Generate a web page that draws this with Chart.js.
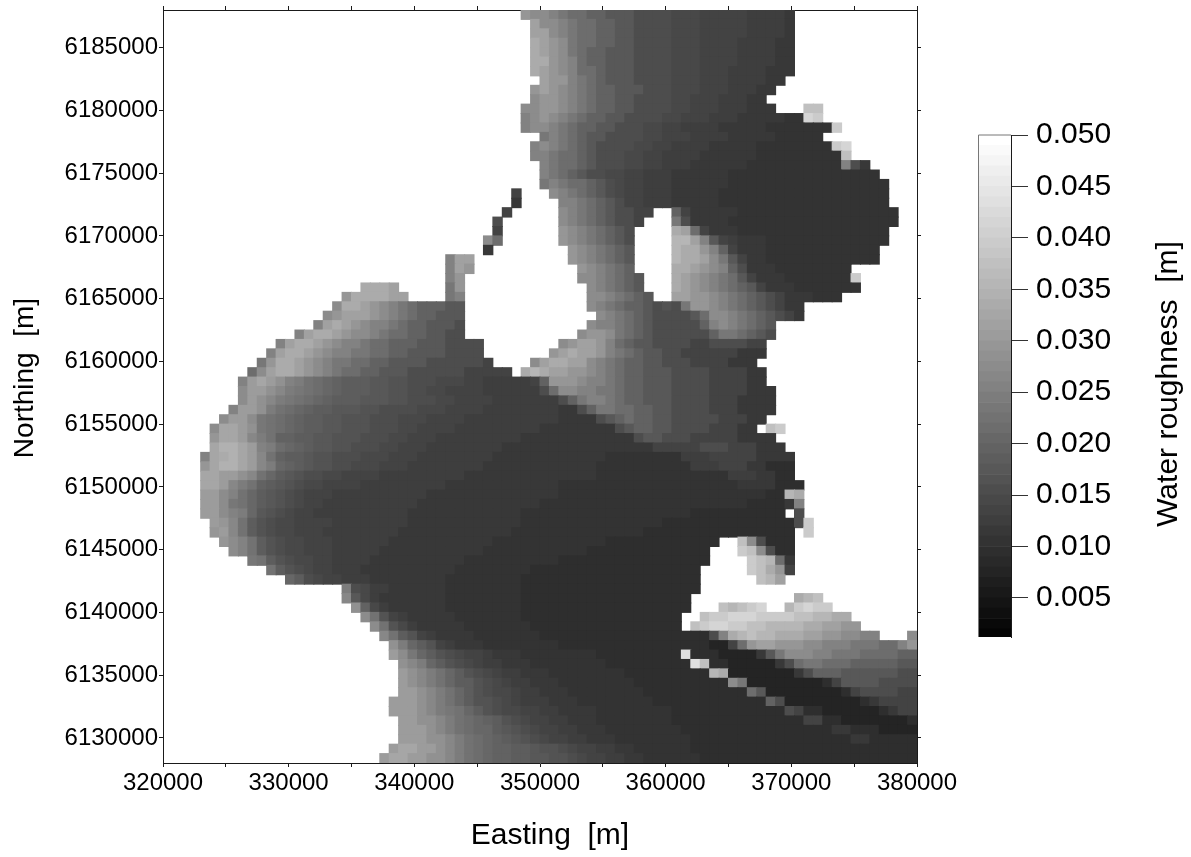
<!DOCTYPE html>
<html>
<head>
<meta charset="utf-8">
<title>Water roughness</title>
<script src="https://cdn.jsdelivr.net/npm/chart.js@4/dist/chart.umd.min.js"></script>
<style>
  body { margin: 0; background: #fff; }
  canvas { position: absolute; top: 0; }
  #mapChart { left: 0; }
  #barChart { left: 960px; }
</style>
</head>
<body>
<canvas id="mapChart" width="1191" height="857"></canvas>
<canvas id="barChart" width="231" height="857"></canvas>
<script>
const eastingTicks = [320000, 325000, 330000, 335000, 340000, 345000, 350000, 355000, 360000, 365000, 370000, 375000, 380000];
const northingTicks = [6130000, 6135000, 6140000, 6145000, 6150000, 6155000, 6160000, 6165000, 6170000, 6175000, 6180000, 6185000];
const roughnessTicks = [0.005, 0.010, 0.015, 0.020, 0.025, 0.030, 0.035, 0.040, 0.045, 0.050];

// one letter per roughness level, a = 0.002, A = 0.003, b = 0.004 ... y = 0.050
const levelLetters = 'aAbBcCdDeEfFgGhHiIjJkKlLmMnNoOpPqQrRsStTuUvVwWxXy';
const levelValues = [0.002, 0.003, 0.004, 0.005, 0.006, 0.007, 0.008, 0.009, 0.010, 0.011, 0.012, 0.013, 0.014,
  0.015, 0.016, 0.017, 0.018, 0.019, 0.020, 0.021, 0.022, 0.023, 0.024, 0.025, 0.026, 0.027, 0.028, 0.029, 0.030,
  0.031, 0.032, 0.033, 0.034, 0.035, 0.036, 0.037, 0.038, 0.039, 0.040, 0.041, 0.042, 0.043, 0.044, 0.045, 0.046,
  0.047, 0.048, 0.049, 0.050];

// north to south, 750 m cells. letter + count repeats, "." is no data
const roughnessRows = [
  '.38 onnmlkkjjiii h4 G3 g5 F4 f',
  '.39 pnnmlkkjjii h4 G3 g5 F4 f',
  '.39 ppnmlkkjjii h4 G3 g5 F4 f',
  '.39 qponlkkjjii h4 G3 g4 F4 f2',
  '.39 qponlkjjiii h4 G3 g4 F4 f2',
  '.39 qqonmkjjiii h4 G3 g4 F4 f2',
  '.39 qponmkkjiii h4 G3 g3 F4 f3',
  '.40 poomlkjiii h4 G3 g3 F4 f2',
  '.39 oponmlkjjiii h3 G3 g3 F3 f2',
  '.39 noonmlkjjii h4 G2 g3 F3 f2',
  '.38 nnoonmlkjjii h4 G2 g3 F3 f3 .3 ss',
  '.38 mnonmlkjjiih h3 G2 g3 F3 f5 E2 ut',
  '.38 mnnmlkjjii h3 G2 g2 F4 f5 E7 t',
  '.40 lmlkjiih h3 G2 g3 F4 f5 E5',
  '.39 mnmlkjih h3 G2 g2 F4 f5 E8 tu',
  '.39 mmlkkjih h2 G2 g2 F4 f6 E9 s',
  '.40 mlkkjih h2 G2 g2 F3 f6 E10 mhf',
  '.40 mlkjih h G2 g2 F3 f6 E16',
  '.40 lmlkkjih G g2 F3 f6 E17',
  '.37 g .3 nmlkjih G g2 F3 f5 E18',
  '.37 f .4 mmlkjih g2 F3 f5 E18',
  '.36 g .5 nmlkjih hgg .2 jg f5 E17',
  '.35 h .6 nmlkjih hg .3 lh f4 E18',
  '.35 g .6 onmlkji h .4 qpkg f3 E16',
  '.34 nk .6 onmlkjih .4 rrpmig F f3 E13',
  '.34 f .8 onmlkji .4 rqqomjgf f2 E12',
  '.30 mpp .10 onmlkji .4 rqqpnligf f E12',
  '.30 mpo .11 onmlkj .4 qqponmjhff f E8',
  '.30 mo .12 nnmlkji .3 qponmlkigf f2 E7 t',
  '.21 qqqp .5 lo .13 nmlkji .3 qponmlkjigf f2 E7',
  '.19 oqqqqpp .4 lm .13 nnmlkji .2 ppoonmlkjihgf f2 E3',
  '.18 nqqponmlkjjjii .13 nmlkjjihH hloonmlkjihgff',
  '.17 noppponmlkjjiii .14 nmlkjihhh hiknnmlkjihgf',
  '.16 mpqponmmlkjjiiih .13 nmmlkjihh hhhjmnmlkji',
  '.14 mpqqponnmlkkjjiihh .12 noonlkjihh hhhhjllkjih',
  '.12 mpqqponmmlkkjjjiiihhh h .8 noppomkjiihhhhgghhhhgg',
  '.11 mpqqponmmllkkjjiiiihhhh .7 opqppomlkjiihh g6 f3',
  '.10 loqqponmllkkjjiiiihhhhhhg .4 npqqppnmlkjjiihhh g4 f3',
  '.9 knpqqponmlkkjjiiihhhhhhggggg .1 qrqppoonmlkjjiii h4 g4 f2',
  '.8 mOPONmLKkJjIIIiiHHhhhGGGgg F5 gjooonmmlkjjiii h4 g4 f2',
  '.8 nOONMLlKkJjIIIiiHHhhGGgggg F6 hknnmmllkjjiii h4 g4 f3',
  '.8 nONMLlKkJjIIIiiiHHhhhGGgggg F7 hjlmmlkjjiii h4 g3 f4',
  '.7 mOONLKkJjIIiiiHHhhhhGGGgggg F8 f2 hjllkkjjii h4 g3 f4',
  '.6 nOOnlKkJjIIiiHHHhhhGGGgggg F10 f4 hijkjjiih h4 g3 f2',
  '.5 nPPONlKkJjIIiiHHHhhhGGgggg F9 f8 hijjiihhhh g3 f2 .1 st',
  '.5 oPPOMLKjjIIiiHHHhhhGGggg F9 f12 hiihhh g5 f4',
  '.5 PQQPOmLkJjIiiHHhhhGGggg F8 f16 g5 h3 g3 f3',
  '.4 mPqQPOMKjIIiHHhhhGGGggg F8 f12 E8 F3 g5 f4',
  '.4 oPQQPOMLJjIiHHhhGGGggg F8 f12 E10 F3 g3 f2 e3',
  '.4 PPOONMKJIiHhhGGgggg F9 f14 E14 F3 f2 e2',
  '.4 PPOMLKjIiHhGGgggg F9 f12 E19 f4 e3',
  '.4 OOnmKJIiHhGggg F10 f14 E22 e2 rq',
  '.4 OOnlKJIiHhGgg F10 f13 E22 e4 fm',
  '.4 OOnmLJiHhGgg F10 f12 E18 e10 .1 h',
  '.5 OoMKIHhGGgggg F8 f12 E15 e14 ht',
  '.5 oOMKIHhGGggg F8 f12 E14 e16 .1 t',
  '.6 onmKIHhGGggg F6 f11 E12 e12 .2 snh e3',
  '.7 nmKIHhGGggg F5 f11 E11 e13 .3 tsnh e2',
  '.9 lKIHhGGgg F4 f10 E10 e16 .4 tsrk f',
  '.11 KIHhGgg F3 f10 E8 e18 .5 tsqo g',
  '.13 JIhGgg F3 f8 E8 e19 .6 srp',
  '.19 LhG F2 f6 E8 e19',
  '.19 MiGF f7 E8 e18 .11 qrs',
  '.20 NjGF f6 E8 e18 .3 srstu .2 rtutt',
  '.21 nKHgF f5 E7 e17 .2 sttuuutt ttssrrqq',
  '.22 nKHGF f5 E7 e16 .1 stuuttssrrrrqqppoo',
  '.23 MKIHgF f4 E7 e18 hmqrsrrqqqppoonnmm .3 n',
  '.24 NLJIHgF f3 E8 e16 d2 gkoppooonnmmmlllkkmo',
  '.24 OnlJIHhGggF f3 E8 e9 v e3 d4 filnnnmmlllkkkkjj',
  '.25 NMLJIHhGgFF f3 E8 e9 vs e2 d5 fhkllkkkjjjjjii',
  '.25 ONMLKJIHhGgFF f3 E8 e9 rq d7 fhjjjiiiiiihh',
  '.25 ONMLKJIIHhGgFF f3 E8 e10 nl d8 egiiiihhhh',
  '.25 OONMLKJIHhGGgF F f3 E8 e11 ki d8 eghhhhgg',
  '.24 OOONMLKJIHHhGgF F2 f3 E8 e12 jh d8 efg g3',
  '.24 OOONMLlKJIHhGGg g F2 f4 E8 e12 hg e2 d6 efgg',
  '.25 OONNMLKkJjIHhGggFF f3 E8 e14 gg e2 d7 e',
  '.25 OOONMLKkJJIiHhGggFF f3 E8 e16 f2 e3 d4',
  '.25 OOONNMLKkJjIiHhGggFF f3 E8 e17 f2 e5',
  '.24 OPPOONMLKkJjjIIiHHhGggFFff E6 e24',
  '.23 OPPOONNMLKkJjjIIiiHHhGggFFff E6 e23'
];

const cellSize = 750;
const westEdge = 320000;
const northEdge = 6188000;
const lowEnd = 0.0012;
const highEnd = 0.05;
const fontFamily = '"Liberation Sans", Arial, sans-serif';
const axisFont = { family: fontFamily, size: 24 };
const bigFont = { family: fontFamily, size: 30 };
const lineColor = '#1a1a1a';

function grey(v) {
  const g = Math.round((v - lowEnd) / (highEnd - lowEnd) * 255);
  return `rgb(${g},${g},${g})`;
}

function decodeCells() {
  const cells = [];
  roughnessRows.forEach((row, r) => {
    let c = 0;
    for (const m of row.matchAll(/([.a-zA-Z])(\d*)/g)) {
      const n = m[2] ? parseInt(m[2]) : 1;
      for (let i = 0; i < n; i++, c++) {
        if (m[1] === '.') continue;
        cells.push({
          x: westEdge + cellSize * (c + 0.5),
          y: northEdge - cellSize * (r + 0.5),
          v: levelValues[levelLetters.indexOf(m[1])]
        });
      }
    }
  });
  return cells;
}

function fixedTicks(values) {
  return scale => { scale.ticks = values.map(v => ({ value: v })); };
}

// labels hang over the plot ends, keep that from moving the plot area
function fitTo(prop, size) {
  return s => {
    s[prop] = size;
    s.paddingTop = s.paddingBottom = s.paddingLeft = s.paddingRight = 0;
  };
}

function drawTitle(ctx, text, x, y, angle, size) {
  ctx.save();
  ctx.translate(x, y);
  ctx.rotate(angle);
  ctx.font = `${size}px ${fontFamily}`;
  ctx.fillStyle = '#000';
  ctx.textAlign = 'center';
  ctx.textBaseline = 'middle';
  ctx.fillText(text, 0, 0);
  ctx.restore();
}

const mapTitles = {
  id: 'mapTitles',
  afterDraw(chart) {
    drawTitle(chart.ctx, 'Easting  [m]', 550, 836, 0, 30);
    drawTitle(chart.ctx, 'Northing  [m]', 25, 378, -Math.PI / 2, 28);
  }
};

new Chart(document.getElementById('mapChart'), {
  type: 'scatter',
  data: {
    datasets: [{
      data: decodeCells(),
      pointStyle: 'rect',
      pointBorderWidth: 0,
      backgroundColor: ctx => ctx.raw ? grey(ctx.raw.v) : '#000',
      pointRadius: ctx => {
        const s = ctx.chart.scales.x;
        return (s.getPixelForValue(westEdge + cellSize) - s.getPixelForValue(westEdge) + 1) / Math.SQRT2;
      }
    }]
  },
  options: {
    responsive: false,
    animation: false,
    plugins: { legend: { display: false }, tooltip: { enabled: false } },
    layout: { padding: 0, autoPadding: false },
    scales: {
      x: {
        type: 'linear', position: 'bottom', min: 320000, max: 380000,
        afterBuildTicks: fixedTicks(eastingTicks),
        afterFit: fitTo('height', 94),
        grid: { drawOnChartArea: false, tickLength: 4, tickColor: lineColor },
        border: { color: lineColor },
        ticks: {
          autoSkip: false, maxRotation: 0, font: axisFont, color: '#000', padding: 2,
          callback: v => v % 10000 === 0 ? String(v) : ''
        }
      },
      y: {
        type: 'linear', position: 'left', min: 6128000, max: 6188000,
        afterBuildTicks: fixedTicks(northingTicks),
        afterFit: fitTo('width', 163),
        grid: { drawOnChartArea: false, tickLength: 4, tickColor: lineColor },
        border: { color: lineColor },
        ticks: { autoSkip: false, font: axisFont, color: '#000', padding: 1, callback: v => String(v) }
      },
      top: {
        type: 'linear', position: 'top', min: 320000, max: 380000,
        afterBuildTicks: fixedTicks(eastingTicks),
        afterFit: fitTo('height', 10),
        grid: { drawOnChartArea: false, tickLength: 4, tickColor: lineColor },
        border: { color: lineColor },
        ticks: { display: false }
      },
      right: {
        type: 'linear', position: 'right', min: 6128000, max: 6188000,
        afterBuildTicks: fixedTicks(northingTicks),
        afterFit: fitTo('width', 274),
        grid: { drawOnChartArea: false, tickLength: 4, tickColor: lineColor },
        border: { color: lineColor },
        ticks: { display: false }
      }
    }
  },
  plugins: [mapTitles]
});

// frame on the bar's open sides and the bottom-to-top axis title
const barDecor = {
  id: 'barDecor',
  afterDraw(chart) {
    const { ctx, chartArea: a } = chart;
    ctx.save();
    ctx.strokeStyle = '#777';
    ctx.lineWidth = 1;
    ctx.beginPath();
    ctx.moveTo(a.left - 0.5, a.bottom);
    ctx.lineTo(a.left - 0.5, a.top);
    ctx.lineTo(a.right, a.top);
    ctx.stroke();
    ctx.restore();
    drawTitle(ctx, 'Water roughness  [m]', 209, 384, -Math.PI / 2, 30);
  }
};

new Chart(document.getElementById('barChart'), {
  type: 'bar',
  data: {
    labels: ['roughness'],
    datasets: levelValues.map((v, i) => ({
      data: [[i === 0 ? lowEnd : levelValues[i - 1], v]],
      backgroundColor: grey(v),
      barPercentage: 1,
      categoryPercentage: 1,
      grouped: false
    }))
  },
  options: {
    responsive: false,
    animation: false,
    plugins: { legend: { display: false }, tooltip: { enabled: false } },
    layout: { padding: { left: 19, top: 135, bottom: 220, right: 0 }, autoPadding: false },
    scales: {
      x: { display: false },
      y: {
        type: 'linear', position: 'right', min: lowEnd, max: highEnd,
        afterBuildTicks: fixedTicks(roughnessTicks),
        afterFit: fitTo('width', 180),
        grid: { drawOnChartArea: false, tickLength: 17, tickColor: '#333' },
        border: { color: lineColor },
        ticks: { font: bigFont, color: '#000', padding: 8, callback: v => v.toFixed(3) }
      }
    }
  },
  plugins: [barDecor]
});
</script>
</body>
</html>
